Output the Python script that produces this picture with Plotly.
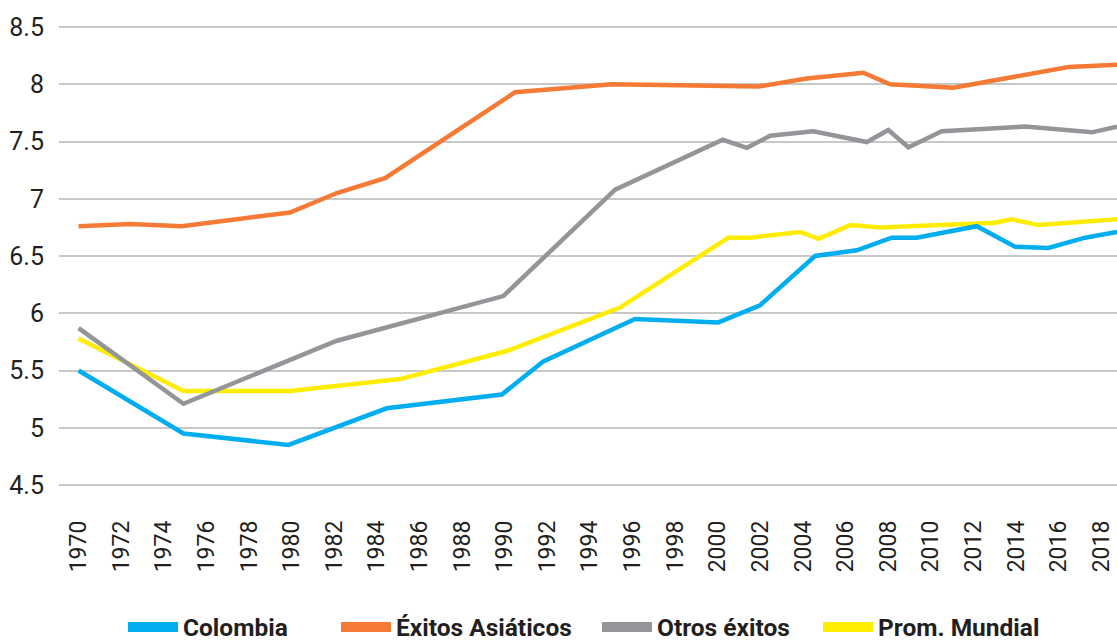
import plotly.graph_objects as go

# ---- Data ----
col_x = [1970, 1974.92, 1979.85, 1984.46, 1989.86, 1991.81, 1996.11, 2000.02, 2001.98,
         2004.56, 2006.52, 2008.16, 2009.33, 2012.15, 2013.95, 2015.51, 2017.23, 2018.73]
col_y = [5.50, 4.95, 4.85, 5.17, 5.29, 5.58, 5.95, 5.92, 6.07,
         6.50, 6.55, 6.66, 6.66, 6.76, 6.58, 6.57, 6.66, 6.71]

asia_x = [1970, 1972.42, 1974.84, 1979.92, 1982.12, 1984.38, 1990.48, 1995.02, 2001.90,
          2004.17, 2006.83, 2008.08, 2011.05, 2016.45, 2018.73]
asia_y = [6.76, 6.78, 6.76, 6.88, 7.05, 7.18, 7.93, 8.00, 7.98,
          8.05, 8.10, 8.00, 7.97, 8.15, 8.17]

otros_x = [1970, 1974.92, 1982.12, 1989.93, 1995.18, 2000.23, 2001.36, 2002.45, 2004.48,
           2006.99, 2008.00, 2008.94, 2010.51, 2014.42, 2017.55, 2018.73]
otros_y = [5.87, 5.21, 5.76, 6.15, 7.08, 7.515, 7.445, 7.55, 7.59,
           7.495, 7.60, 7.45, 7.59, 7.63, 7.58, 7.63]

mund_x = [1970, 1974.92, 1979.92, 1985.09, 1990.09, 1995.41, 2000.49, 2001.51, 2003.86,
          2004.72, 2006.22, 2007.63, 2009.04, 2013.01, 2013.79, 2015.04, 2018.73]
mund_y = [5.78, 5.32, 5.32, 5.425, 5.67, 6.05, 6.66, 6.66, 6.71,
          6.65, 6.77, 6.75, 6.76, 6.79, 6.82, 6.77, 6.82]

series_names = ["Colombia", "Éxitos Asiáticos", "Otros éxitos", "Prom. Mundial"]
series_colors = ["#00AEEF", "#F47A35", "#939598", "#FFED00"]
series_x = [col_x, asia_x, otros_x, mund_x]
series_y = [col_y, asia_y, otros_y, mund_y]

x_ticks = list(range(1970, 2019, 2))
y_ticks = [4.5, 5, 5.5, 6, 6.5, 7, 7.5, 8, 8.5]

FONT = "Roboto, Liberation Sans Narrow, DejaVu Sans Condensed, sans-serif"

fig = go.Figure()

draw_order = [3, 2, 1, 0]
for i in draw_order:
    fig.add_trace(go.Scatter(
        x=series_x[i], y=series_y[i], mode="lines", name=series_names[i],
        line=dict(color=series_colors[i], width=4.5),
        showlegend=False, hoverinfo="x+y+name"))

# one legend per entry so each can sit where the reference shows it
legend_ids = ["legend", "legend2", "legend3", "legend4"]
legend_left = [123, 336, 597, 818]  # container pixels
for i in range(4):
    fig.add_trace(go.Scatter(
        x=[None], y=[None], mode="lines", name=series_names[i],
        line=dict(color=series_colors[i], width=10), showlegend=True,
        legend=legend_ids[i]))

pad = 2 / 114.5  # so the 4.5 / 8.5 gridlines are drawn

layout_legends = {}
for i, lid in enumerate(legend_ids):
    layout_legends[lid] = dict(
        orientation="h", xref="container", x=legend_left[i] / 1117, xanchor="left",
        yref="container", y=(641 - 627) / 641, yanchor="middle",
        font=dict(family=FONT, size=24.5, color="#231F20", weight="bold"),
        itemwidth=50, bgcolor="rgba(0,0,0,0)")

fig.update_layout(
    width=1117, height=641,
    margin=dict(l=59, r=0, t=25, b=154),
    paper_bgcolor="white", plot_bgcolor="white",
    font=dict(family=FONT, color="#231F20"),
    xaxis=dict(range=[1969.08, 2018.73], tickmode="array", tickvals=x_ticks,
               ticktext=[str(v) for v in x_ticks], tickangle=-90,
               showgrid=False, zeroline=False, showline=False, ticks="",
               tickfont=dict(family=FONT, size=23, color="#231F20", weight=400),
               ticklabelstandoff=28),
    yaxis=dict(range=[4.5 - pad, 8.5 + pad], tickmode="array", tickvals=y_ticks,
               ticktext=[("%g" % v) for v in y_ticks],
               showgrid=True, gridcolor="#C8C8C8", gridwidth=1.5,
               zeroline=False, showline=False, ticks="",
               tickfont=dict(family=FONT, size=25, color="#231F20", weight=400),
               ticklabelstandoff=14),
    **layout_legends,
)

fig.write_html("out.html", config={"displayModeBar": False},
               post_script="document.body.style.margin='0';document.body.style.overflow='hidden';")
